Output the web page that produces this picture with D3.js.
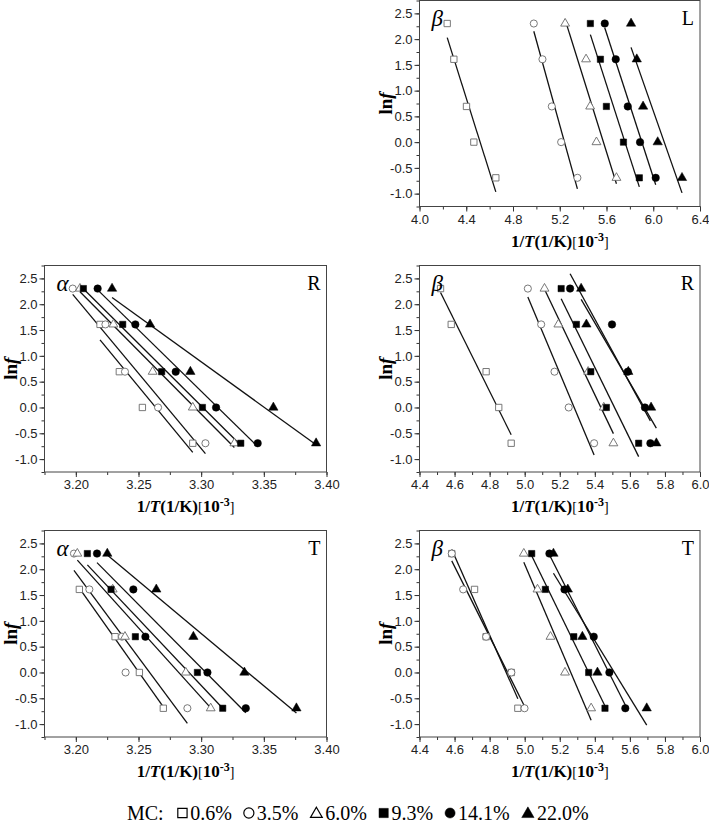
<!DOCTYPE html>
<html><head><meta charset="utf-8">
<script src="https://cdn.jsdelivr.net/npm/d3@7"></script>
<style>body{margin:0;background:#fff}svg{display:block}</style>
</head><body>
<svg id="c" width="709" height="836"></svg>
<script>
// ln f values (f = 10, 5, 2, 1, 0.5 Hz)
const lnf = [2.303, 1.609, 0.693, 0, -0.693];
const mcLabels = ["0.6%", "3.5%", "6.0%", "9.3%", "14.1%", "22.0%"];
const yTicks = [-1.0, -0.5, 0.0, 0.5, 1.0, 1.5, 2.0, 2.5];
const alphaTicks = [3.20, 3.25, 3.30, 3.35, 3.40];
const betaLTicks = [4.0, 4.4, 4.8, 5.2, 5.6, 6.0, 6.4];
const betaRTTicks = [4.4, 4.6, 4.8, 5.0, 5.2, 5.4, 5.6, 5.8, 6.0];

// 1/T values (10^-3 1/K), one row per MC series, aligned with lnf (null = no point)
const betaL = [
  [4.237, 4.294, 4.402, 4.465, 4.653],
  [4.978, 5.052, 5.132, 5.212, 5.351],
  [5.246, 5.425, 5.460, 5.514, 5.685],
  [5.462, 5.548, 5.599, 5.745, 5.881],
  [5.585, 5.679, 5.782, 5.887, 6.021],
  [5.810, 5.859, 5.913, 6.038, 6.246]
];
const alphaR = [
  [null, 3.2193, 3.2347, 3.2531, 3.2933],
  [3.1975, 3.2236, 3.2392, 3.2656, 3.3034],
  [3.2033, 3.2300, 3.2613, 3.2933, 3.3265],
  [3.2060, 3.2374, 3.2685, 3.3010, 3.3316],
  [3.2174, 3.2475, 3.2797, 3.3119, 3.3451],
  [3.2289, 3.2592, 3.2914, 3.3576, 3.3917]
];
const betaR = [
  [4.520, 4.581, 4.780, 4.852, 4.923],
  [5.018, 5.094, 5.170, 5.251, 5.396],
  [5.113, 5.192, 5.362, 5.451, 5.506],
  [5.208, 5.295, 5.377, 5.466, 5.650],
  [5.259, 5.498, 5.588, 5.686, 5.717],
  [5.322, 5.352, 5.591, 5.721, 5.751]
];
const alphaT = [
  [null, 3.2028, 3.2313, 3.2507, 3.2698],
  [3.1985, 3.2108, 3.2368, 3.2397, 3.2890],
  [3.2012, 3.2294, 3.2392, 3.2877, 3.3076],
  [3.2092, 3.2281, 3.2475, 3.2970, 3.3172],
  [3.2169, 3.2459, 3.2555, 3.3050, 3.3356],
  [3.2251, 3.2642, 3.2938, 3.3345, 3.3760]
];
const betaT = [
  [4.584, 4.714, 4.780, 4.924, 4.961],
  [4.584, 4.649, 4.780, 4.924, 4.999],
  [4.995, 5.073, 5.147, 5.230, 5.379],
  [5.040, 5.118, 5.280, 5.365, 5.458],
  [5.141, 5.227, 5.394, 5.483, 5.574],
  [5.164, 5.246, 5.329, 5.415, 5.696]
];

const svg = d3.select("#c");
const symTypes = [d3.symbolSquare, d3.symbolCircle, d3.symbolTriangle, d3.symbolSquare, d3.symbolCircle, d3.symbolTriangle];
const symSizes = [40, 40, 34, 40, 44, 38];
const openStroke = "#6a6a6a";

const panels = [
  {data: betaL, ticks: betaLTicks, dom: [4.0, 6.4], minor: 0.2, x0: 419.5, x1: 700, y0: 0.5, y1: 206.5, fmt: 1, phase: "β", pos: "L"},
  {data: alphaR, ticks: alphaTicks, dom: [3.175, 3.40], minor: 0.025, x0: 44.5, x1: 326.5, y0: 265.5, y1: 472, fmt: 2, phase: "α", pos: "R"},
  {data: betaR, ticks: betaRTTicks, dom: [4.4, 6.0], minor: 0.1, x0: 419.5, x1: 700, y0: 265.5, y1: 472, fmt: 1, phase: "β", pos: "R"},
  {data: alphaT, ticks: alphaTicks, dom: [3.175, 3.40], minor: 0.025, x0: 44.5, x1: 326.5, y0: 530.5, y1: 737, fmt: 2, phase: "α", pos: "T"},
  {data: betaT, ticks: betaRTTicks, dom: [4.4, 6.0], minor: 0.1, x0: 419.5, x1: 700, y0: 530.5, y1: 737, fmt: 1, phase: "β", pos: "T"}
];

function fitLine(xs, ys) {
  const pts = xs.map((x, i) => [x, ys[i]]).filter(p => p[0] != null);
  const mx = d3.mean(pts, p => p[0]), my = d3.mean(pts, p => p[1]);
  let sxy = 0, sxx = 0;
  pts.forEach(p => { sxy += (p[0] - mx) * (p[1] - my); sxx += (p[0] - mx) ** 2; });
  const b = sxy / sxx, a = my - b * mx;
  const [lo, hi] = d3.extent(pts, p => p[0]);
  return [[lo, a + b * lo], [hi, a + b * hi]];
}

const serif = "Liberation Serif, Times New Roman, serif";
const sans = "Liberation Sans, Arial, sans-serif";

panels.forEach(p => {
  const x = d3.scaleLinear().domain(p.dom).range([p.x0, p.x1]);
  const y = d3.scaleLinear().domain([-1.25, 2.75]).range([p.y1, p.y0]);
  const g = svg.append("g");

  // minor ticks
  const xMinor = d3.range(p.dom[0], p.dom[1] + 1e-9, p.minor);
  g.append("g").attr("transform", `translate(0,${p.y1})`)
    .call(d3.axisBottom(x).tickValues(xMinor).tickSize(3).tickFormat(""))
    .call(s => s.select(".domain").remove())
    .selectAll("line").attr("stroke", "#333");
  g.append("g").attr("transform", `translate(${p.x0},0)`)
    .call(d3.axisLeft(y).tickValues(d3.range(-1.25, 2.76, 0.25)).tickSize(3).tickFormat(""))
    .call(s => s.select(".domain").remove())
    .selectAll("line").attr("stroke", "#333");

  // major axes
  const xa = g.append("g").attr("transform", `translate(0,${p.y1})`)
    .call(d3.axisBottom(x).tickValues(p.ticks).tickSize(5).tickPadding(3).tickFormat(d => d.toFixed(p.fmt)));
  xa.select(".domain").remove();
  xa.selectAll("line").attr("stroke", "#333");
  xa.selectAll("text").attr("font-family", sans).attr("font-size", 13).attr("fill", "#222");
  const ya = g.append("g").attr("transform", `translate(${p.x0},0)`)
    .call(d3.axisLeft(y).tickValues(yTicks).tickSize(5).tickPadding(2).tickFormat(d => d.toFixed(1)));
  ya.select(".domain").remove();
  ya.selectAll("line").attr("stroke", "#333");
  ya.selectAll("text").attr("font-family", sans).attr("font-size", 13).attr("fill", "#222");

  // frame
  g.append("rect").attr("x", p.x0).attr("y", p.y0).attr("width", p.x1 - p.x0).attr("height", p.y1 - p.y0)
    .attr("fill", "none").attr("stroke", "#444").attr("stroke-width", 1);

  // fit lines
  p.data.forEach(xs => {
    const ln = fitLine(xs, lnf);
    g.append("line").attr("x1", x(ln[0][0])).attr("y1", y(ln[0][1]))
      .attr("x2", x(ln[1][0])).attr("y2", y(ln[1][1]))
      .attr("stroke", "#111").attr("stroke-width", 1.3);
  });

  // markers
  p.data.forEach((xs, si) => {
    const sym = d3.symbol().type(symTypes[si]).size(symSizes[si]);
    const open = si < 3;
    xs.forEach((v, i) => {
      if (v == null) return;
      g.append("path").attr("d", sym())
        .attr("transform", `translate(${x(v)},${y(lnf[i])})`)
        .attr("fill", open ? "#fff" : "#000")
        .attr("stroke", open ? openStroke : "#000")
        .attr("stroke-width", open ? 0.9 : 0.5);
    });
  });

  // labels
  g.append("text").attr("x", p.x0 + 12).attr("y", p.y0 + 25)
    .attr("font-family", serif).attr("font-style", "italic")
    .attr("font-size", 23).text(p.phase);
  g.append("text").attr("x", p.x1 - 6).attr("y", p.y0 + 24).attr("text-anchor", "end")
    .attr("font-family", serif).attr("font-size", 20).text(p.pos);

  // y title
  const yt = g.append("text")
    .attr("transform", `translate(${p.x0 - 28},${(p.y0 + p.y1) / 2}) rotate(-90)`)
    .attr("text-anchor", "middle")
    .attr("font-family", serif).attr("font-weight", "bold").attr("font-size", 19);
  yt.append("tspan").text("ln");
  yt.append("tspan").attr("font-style", "italic").text("f");

  // x title
  const xt = g.append("text").attr("x", (p.x0 + p.x1) / 2).attr("y", p.y1 + 40)
    .attr("text-anchor", "middle")
    .attr("font-family", serif).attr("font-weight", "bold").attr("font-size", 17);
  xt.append("tspan").text("1/");
  xt.append("tspan").attr("font-style", "italic").text("T");
  xt.append("tspan").text("(1/K)");
  xt.append("tspan").attr("font-weight", "normal").attr("font-size", 14).text("[");
  xt.append("tspan").text("10");
  xt.append("tspan").attr("font-size", 12).attr("dy", -6).text("-3");
  xt.append("tspan").attr("font-weight", "normal").attr("font-size", 14).attr("dy", 6).text("]");
});

// legend
const lg = svg.append("g").attr("font-family", serif).attr("font-size", 20);
const ly = 820;
let cx = 127;
const mc = lg.append("text").attr("x", cx).attr("y", ly).text("MC:");
cx += mc.node().getComputedTextLength() + 14;
const legSizes = [86, 80, 60, 86, 80, 66];
const legW = [9.5, 10, 11.7, 9.5, 10, 12.3];
mcLabels.forEach((lab, i) => {
  const open = i < 3;
  const tri = symTypes[i] === d3.symbolTriangle;
  lg.append("path").attr("d", d3.symbol().type(symTypes[i]).size(legSizes[i])())
    .attr("transform", `translate(${cx + legW[i] / 2},${ly - (tri ? 6 : 7)})`)
    .attr("fill", open ? "#fff" : "#000").attr("stroke", "#000").attr("stroke-width", open ? 1.2 : 0.5);
  cx += legW[i] + 3;
  const t = lg.append("text").attr("x", cx).attr("y", ly).text(lab);
  cx += t.node().getComputedTextLength() + 12;
});
</script>
</body></html>
